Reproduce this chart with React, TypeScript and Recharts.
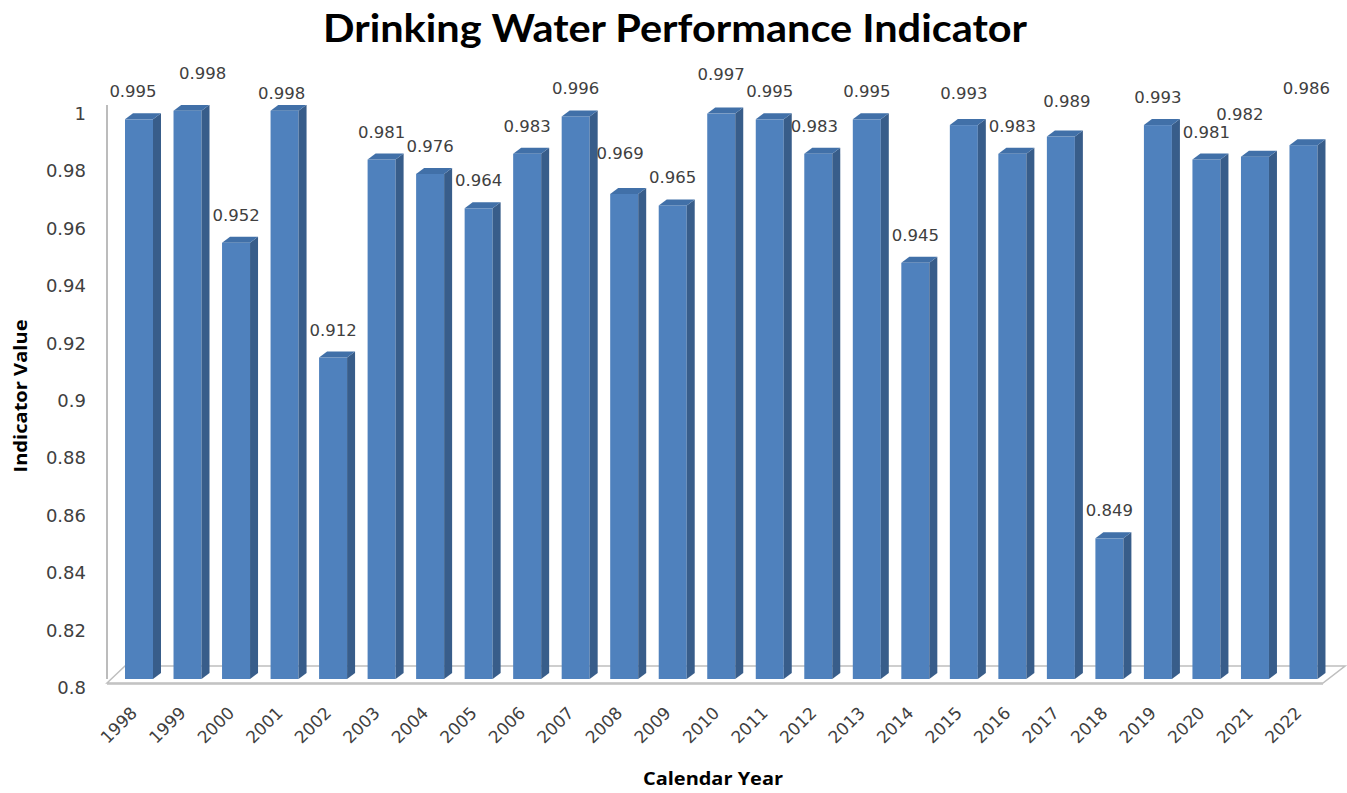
import { BarChart, Bar, XAxis, YAxis, LabelList, ReferenceArea } from "recharts"

const years = [
    "1998", "1999", "2000", "2001", "2002", "2003", "2004", "2005", "2006",
    "2007", "2008", "2009", "2010", "2011", "2012", "2013", "2014", "2015",
    "2016", "2017", "2018", "2019", "2020", "2021", "2022",
]

const indicator = [
    0.995, 0.998, 0.952, 0.998, 0.912, 0.981, 0.976, 0.964, 0.983,
    0.996, 0.969, 0.965, 0.997, 0.995, 0.983, 0.995, 0.945, 0.993,
    0.983, 0.989, 0.849, 0.993, 0.981, 0.982, 0.986,
]

const yTicks = [0.8, 0.82, 0.84, 0.86, 0.88, 0.9, 0.92, 0.94, 0.96, 0.98, 1]

const data = years.map((year, i) => ({ year, value: indicator[i] }))

// excel moves some labels around to avoid collisions
const labelNudge: Record<string, { lift?: number; dx?: number }> = {
    "1998": { dx: -6 },
    "1999": { lift: 10, dx: 15 },
    "2001": { lift: -10, dx: -3 },
    "2008": { lift: 13, dx: -4 },
    "2010": { lift: 12 },
    "2012": { dx: -4 },
    "2015": { lift: 4 },
    "2017": { lift: 8, dx: 6 },
    "2021": { lift: 15, dx: -15 },
    "2022": { lift: 29, dx: 3 },
}

const FRONT = "#4f81bd"
const SIDE = "#385d8a"
const TOP = "#4170a8"
const DX = 8
const DY = 6
const LABEL_FONT = "'DejaVu Sans', sans-serif"

const Bar3D = (props: any) => {
    const { x, y, width, height } = props
    const r = x + width
    const b = y + height
    return (
        <g>
            <rect x={x} y={y} width={width} height={height} fill={FRONT} />
            <polygon points={`${r},${y} ${r + DX},${y - DY} ${r + DX},${b - DY} ${r},${b}`} fill={SIDE} />
            <polygon points={`${x},${y} ${x + DX},${y - DY} ${r + DX},${y - DY} ${r},${y}`} fill={TOP} />
        </g>
    )
}

// floor slab under the bars, area rect starts after the axis padding
const Floor = (props: any) => {
    const { x, y, width, height } = props
    const b = y + height
    const l = x - 8
    const r = x + width
    return (
        <g>
            <polygon
                points={`${l},${b + 4} ${l + 18},${b - 13} ${r + 17},${b - 13} ${r - 5},${b + 4}`}
                fill="none"
                stroke="#bfbfbf"
                strokeWidth={1.5}
            />
            <line x1={l} y1={b + 5} x2={r - 5} y2={b + 5} stroke="#bfbfbf" strokeWidth={1.5} />
        </g>
    )
}

const YTick = (props: any) => {
    const { x, y, payload } = props
    return (
        <text x={x} y={y + 9} dy={6} textAnchor="end" fill="#404040" fontSize={18} fontFamily={LABEL_FONT}>
            {payload.value}
        </text>
    )
}

const XTick = (props: any) => {
    const { x, y, payload } = props
    return (
        <g transform={`translate(${x - 1},${y + 27})`}>
            <text x={0} y={0} textAnchor="end" transform="rotate(-45)" fill="#404040" fontSize={17} fontFamily={LABEL_FONT}>
                {payload.value}
            </text>
        </g>
    )
}

const ValueLabel = (props: any) => {
    const { x, y, width, value, index } = props
    const n = labelNudge[years[index]] || {}
    return (
        <text
            x={x + width / 2 + (n.dx || 0)}
            y={y - 28 - (n.lift || 0) + 6}
            textAnchor="middle"
            fill="#404040"
            fontSize={16.5}
            fontFamily={LABEL_FONT}
        >
            {value}
        </text>
    )
}

export default function App() {
    return (
        <div style={{ position: "absolute", left: 0, top: 0, width: 1347, height: 793, background: "#fff" }}>
            <BarChart
                width={1347}
                height={793}
                data={data}
                margin={{ top: 105, right: 19, bottom: 0, left: 0 }}
                barSize={28}
            >
                <XAxis
                    dataKey="year"
                    height={114}
                    axisLine={false}
                    tickLine={false}
                    interval={0}
                    padding={{ left: 8, right: 0 }}
                    tick={<XTick />}
                />
                <YAxis
                    width={107}
                    domain={[0.8, 1]}
                    ticks={yTicks}
                    allowDataOverflow
                    axisLine={{ stroke: "#a6a6a6", strokeWidth: 1.5 }}
                    tickLine={false}
                    tickMargin={15}
                    tick={<YTick />}
                />
                <ReferenceArea y1={0.8} y2={1} ifOverflow="visible" zIndex={-50} shape={<Floor />} />
                <Bar dataKey="value" shape={<Bar3D />} isAnimationActive={false}>
                    <LabelList dataKey="value" content={<ValueLabel />} />
                </Bar>
            </BarChart>
            <svg
                width={1347}
                height={793}
                style={{ position: "absolute", left: 0, top: 0, pointerEvents: "none" }}
            >
                <text
                    x={675}
                    y={42}
                    textAnchor="middle"
                    fontFamily="Lato, sans-serif"
                    fontWeight="bold"
                    fontSize={39}
                    textLength={704}
                    lengthAdjust="spacingAndGlyphs"
                    fill="#000"
                >
                    Drinking Water Performance Indicator
                </text>
                <text
                    x={713}
                    y={785}
                    textAnchor="middle"
                    fontFamily="'Open Sans', sans-serif"
                    fontWeight="bold"
                    fontSize={18}
                    textLength={140}
                    lengthAdjust="spacingAndGlyphs"
                    fill="#000"
                >
                    Calendar Year
                </text>
                <text
                    x={0}
                    y={0}
                    transform="translate(27,396) rotate(-90)"
                    textAnchor="middle"
                    fontFamily="'Open Sans', sans-serif"
                    fontWeight="bold"
                    fontSize={18}
                    textLength={153}
                    lengthAdjust="spacingAndGlyphs"
                    fill="#000"
                >
                    Indicator Value
                </text>
            </svg>
        </div>
    )
}
